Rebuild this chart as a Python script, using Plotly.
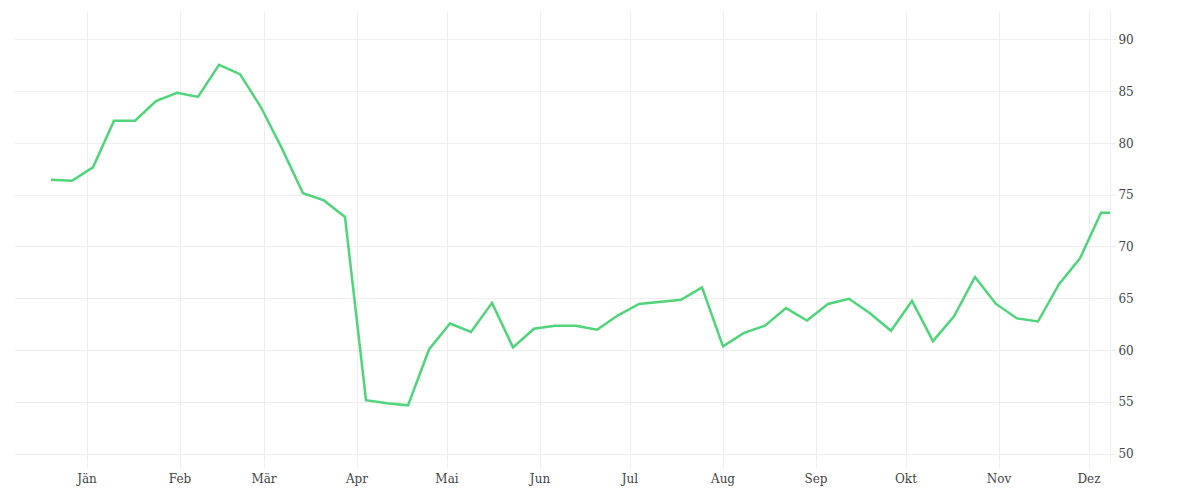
import plotly.graph_objects as go
import pandas as pd

start_date = "2018-12-20"
values = [76.5,76.4,77.7,82.2,82.2,84.1,84.9,84.5,87.6,86.7,83.5,79.5,75.2,74.5,72.9,
          55.2,54.9,54.7,60.1,62.6,61.8,64.6,60.3,62.1,62.4,62.4,62.0,63.4,64.5,64.7,64.9,66.1,
          60.4,61.7,62.4,64.1,62.9,64.5,65.0,63.6,61.9,64.8,60.9,63.3,67.1,64.5,63.1,62.8,66.4,68.9,73.3]
last_date = "2019-12-08"
last_value = 73.3
month_ticks = pd.date_range("2019-01-01", periods=12, freq="MS")
month_labels = ["Jän","Feb","Mär","Apr","Mai","Jun","Jul","Aug","Sep","Okt","Nov","Dez"]
y_ticks = [50,55,60,65,70,75,80,85,90]

dates = list(pd.date_range(start_date, periods=len(values), freq="7D")) + [pd.Timestamp(last_date)]
ys = values + [last_value]

fig = go.Figure(go.Scatter(x=dates, y=ys, mode="lines",
                           line=dict(color="#4fd47a", width=2.5), hoverinfo="x+y"))
fig.update_layout(
    width=1200, height=500, margin=dict(l=7, r=98, t=3, b=45),
    plot_bgcolor="white", paper_bgcolor="white", showlegend=False,
    font=dict(family="DejaVu Serif", size=12, color="#444"),
)
fig.update_xaxes(range=["2018-12-08", "2019-12-08"], tickvals=month_ticks, ticktext=month_labels,
                 showgrid=True, gridcolor="#eeeeee", zeroline=False, showline=False,
                 ticks="outside", ticklen=5, tickcolor="#eeeeee")
fig.update_yaxes(side="right", range=[49.13, 92.8], tickvals=y_ticks,
                 showgrid=True, gridcolor="#eeeeee", zeroline=False,
                 showline=True, linecolor="#eeeeee", ticks="outside", ticklen=5, tickcolor="#eeeeee")
fig.write_html("out.html")
